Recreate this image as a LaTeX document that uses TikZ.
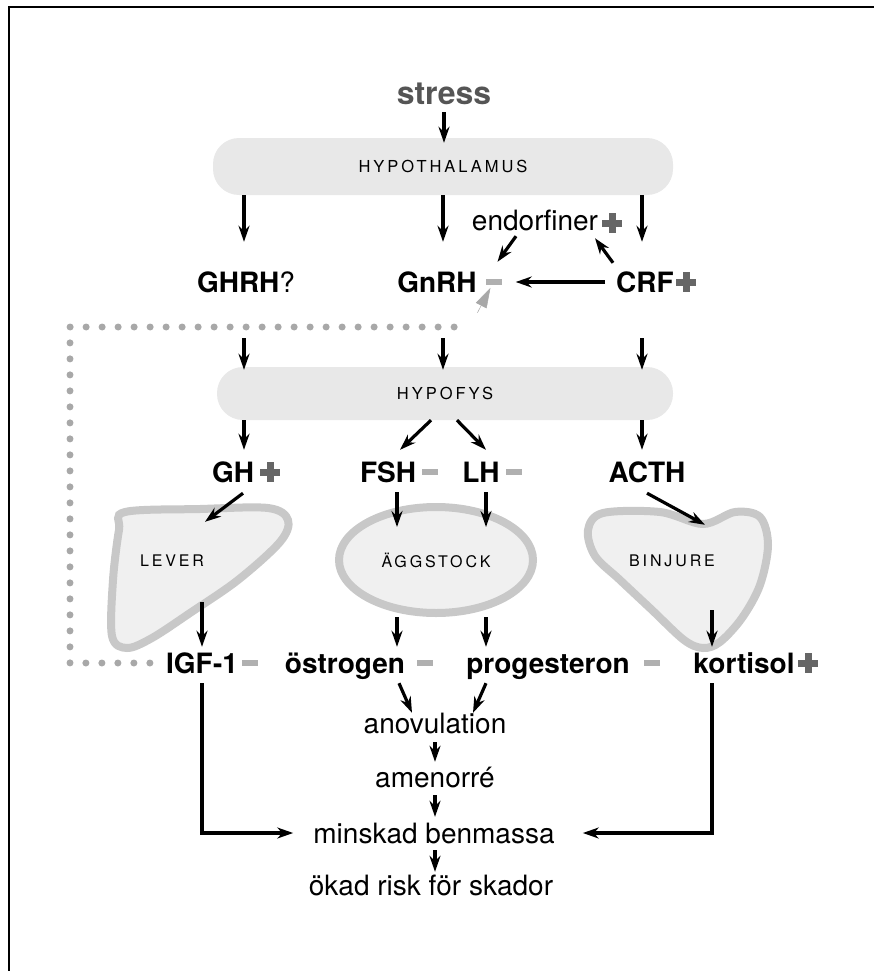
\documentclass[tikz,border=0pt]{standalone}
\usepackage{fontspec}
\setmainfont{TeX Gyre Heros}
\newfontfamily\capsfont[LetterSpace=18]{TeX Gyre Heros}
\usetikzlibrary{arrows.meta, shapes.geometric}

\definecolor{pillgray}{HTML}{E8E8E8}
\definecolor{organfill}{HTML}{F0F0F0}
\definecolor{organline}{HTML}{C8C8C8}
\definecolor{dotgray}{HTML}{A8A8A8}
\definecolor{minusgray}{HTML}{B0B0B0}
\definecolor{plusgray}{HTML}{666666}
\definecolor{stressgray}{HTML}{555555}

\begin{document}
\begin{tikzpicture}[x=1pt, y=-1pt,
    lbl/.style={anchor=base, inner sep=0pt, text height=20pt, text depth=0pt, font=\fontsize{28}{28}\selectfont},
    hormon/.style={lbl, font=\fontsize{28}{28}\selectfont\bfseries},
    pill/.style={fill=pillgray, rounded corners=26pt, font=\fontsize{16.5}{16.5}\selectfont\capsfont},
    organ/.style={fill=organfill, draw=organline, line width=8pt},
    organtxt/.style={anchor=base, inner sep=0pt, text height=12pt, text depth=0pt, font=\fontsize{16}{16}\selectfont\capsfont},
    minus/.style={fill=minusgray, minimum width=16pt, minimum height=6pt, inner sep=0pt},
    plus/.style={minimum size=20pt, inner sep=0pt, path picture={
        \fill[plusgray] ([xshift=-10pt,yshift=-3.5pt]path picture bounding box.center) rectangle ([xshift=10pt,yshift=3.5pt]path picture bounding box.center);
        \fill[plusgray] ([xshift=-3.5pt,yshift=-10pt]path picture bounding box.center) rectangle ([xshift=3.5pt,yshift=10pt]path picture bounding box.center);}},
    arr/.style={-{Stealth[length=16pt, width=11pt]}, line width=3.2pt},
    dots/.style={dotgray, line width=7pt, line cap=round, dash pattern=on 0pt off 16pt}
  ]
  \useasboundingbox (0,0) rectangle (874,971);
  \draw[line width=2pt] (9,971) -- (9,7) -- (874,7);

  % columns
  \coordinate (cA) at (244,0);
  \coordinate (cB) at (443,0);
  \coordinate (cC) at (642,0);
  \coordinate (cD) at (397,0);
  \coordinate (cE) at (486,0);
  \coordinate (cF) at (712,0);

  % organ outlines
  \draw[organ] plot[smooth cycle, tension=0.55] coordinates {(125,512) (200,509) (268,508) (288,520) (280,542) (238,580) (190,613) (152,638) (127,648) (112,636) (113,580) (119,530)};
  \draw[organ] plot[smooth cycle, tension=0.55] coordinates {(603,513) (660,512) (703,524) (735,512) (760,517) (768,545) (760,585) (742,618) (720,642) (703,648) (684,640) (652,610) (620,580) (595,556) (588,530)};

  \node[anchor=base, inner sep=0pt, text height=22pt, text depth=0pt, text=stressgray, font=\fontsize{32}{32}\selectfont\bfseries] (stress) at (444,105) {stress};
  \node[pill, minimum width=460pt, minimum height=57pt] (hypoth) at (443,166.5) {HYPOTHALAMUS};

  \node[lbl] (ghrh) at (246,292) {\bfseries GHRH\mdseries?};
  \node[hormon] (gnrh) at (437,292) {GnRH};
  \node[minus] (gnrhm) at (493.5,282) {};
  \node[hormon] (crf) at (645,292) {CRF};
  \node[plus] (crfp) at (686,282) {};
  \node[lbl] (endorf) at (535,230) {endorfiner};
  \node[plus] (endp) at (612,223) {};

  \node[pill, minimum width=456pt, minimum height=53pt] (hypofys) at (445,393.5) {HYPOFYS};

  \node[hormon] (gh) at (233,482) {GH};
  \node[plus] (ghp) at (270,472) {};
  \node[hormon] (fsh) at (388,482) {FSH};
  \node[minus] (fshm) at (430,472) {};
  \node[hormon] (lh) at (481,482) {LH};
  \node[minus] (lhm) at (514,472) {};
  \node[hormon] (acth) at (647,482) {ACTH};

  \node[organtxt] (lever) at (172,566) {LEVER};
  \node[organ, ellipse, minimum width=194pt, minimum height=106pt, inner sep=0pt, font=\fontsize{16}{16}\selectfont\capsfont] (ovary) at (436,560) {ÄGGSTOCK};
  \node[organtxt] (binj) at (672,566) {BINJURE};

  \node[hormon] (igf) at (202,673) {IGF-1};
  \node[minus] (igfm) at (250,663) {};
  \node[hormon] (ostr) at (345,673) {östrogen};
  \node[minus] (ostm) at (425,663) {};
  \node[hormon] (prog) at (548,673) {progesteron};
  \node[minus] (progm) at (652,663) {};
  \node[hormon] (kort) at (744,673) {kortisol};
  \node[plus] (kortp) at (808,663) {};

  \node[lbl] (anov) at (435,733) {anovulation};
  \node[lbl] (amen) at (435,787) {amenorré};
  \node[lbl] (minsk) at (434,843) {minskad benmassa};
  \node[lbl] (okad) at (431,895) {ökad risk för skador};

  % feedback loop
  \coordinate (fbl) at (70,663);
  \coordinate (ftl) at (70,327);
  \coordinate (ftr) at (470,327);
  \draw[dots] ([xshift=-16pt]igf.west) -- (fbl) -- (ftl) -- (ftr);
  \draw[dotgray, line width=0.5pt, -{Triangle[length=20pt, width=12pt]}, shorten <=16pt, shorten >=3pt] (ftr) -- (gnrhm);

  % arrows
  \draw[arr, shorten <=7pt, shorten >=-5pt] (stress) -- (hypoth.north -| stress);
  \draw[arr, shorten >=30pt] (hypoth.south -| cA) -- (ghrh.north -| cA);
  \draw[arr, shorten >=30pt] (hypoth.south -| cB) -- (gnrh.north -| cB);
  \draw[arr, shorten >=30pt] (hypoth.south -| cC) -- (crf.north -| cC);
  \draw[arr, shorten <=11pt, shorten >=14pt] (crf.west) -- (gnrhm.east);
  \draw[arr] ([xshift=-32pt,yshift=9pt]crf.north) -- ([xshift=60pt,yshift=-8pt]endorf.south);
  \draw[arr] ([xshift=-19pt,yshift=-6pt]endorf.south) -- ([xshift=4pt,yshift=17pt]gnrhm.north);

  \draw[arr, shorten <=46pt, shorten >=-3pt] (ghrh.south -| cA) -- (hypofys.north -| cA);
  \draw[arr, shorten <=46pt, shorten >=-3pt] (gnrh.south -| cB) -- (hypofys.north -| cB);
  \draw[arr, shorten <=46pt, shorten >=-3pt] (crf.south -| cC) -- (hypofys.north -| cC);

  \draw[arr, shorten >=12pt] (hypofys.south -| cA) -- (gh.north -| cA);
  \draw[arr] ([xshift=-14pt]hypofys.south) -- ([xshift=12pt,yshift=12pt]fsh.north);
  \draw[arr] ([xshift=12pt]hypofys.south) -- ([xshift=5pt,yshift=12pt]lh.north);
  \draw[arr, shorten >=12pt] (hypofys.south -| cC) -- (acth.north -| cC);

  \draw[arr] ([xshift=10pt,yshift=-11pt]gh.south) -- ([xshift=33pt,yshift=32pt]lever.north);
  \draw[arr, shorten <=10pt, shorten >=-24pt] (fsh.south -| cD) -- (ovary.north -| cD);
  \draw[arr, shorten <=10pt, shorten >=-24pt] (lh.south -| cE) -- (ovary.north -| cE);
  \draw[arr] ([yshift=-11pt]acth.south) -- ([xshift=33pt,yshift=29pt]binj.north);

  \draw[arr, shorten <=36pt, shorten >=6pt] (lever.south -| igf) -- (igf.north);
  \draw[arr, shorten >=6pt] (ovary.south -| cD) -- (ostr.north -| cD);
  \draw[arr, shorten >=6pt] (ovary.south -| cE) -- (prog.north -| cE);
  \draw[arr, shorten <=44pt, shorten >=6pt] (binj.south -| cF) -- (kort.north -| cF);

  \draw[arr] ([xshift=54pt,yshift=-10pt]ostr.south) -- ([xshift=-23pt]anov.north);
  \draw[arr] ([xshift=-62pt,yshift=-10pt]prog.south) -- ([xshift=38pt]anov.north);
  \draw[arr, shorten <=9pt, shorten >=5pt] (anov) -- (amen);
  \draw[arr, shorten <=8pt, shorten >=6pt] (amen) -- (minsk.north -| amen);
  \draw[arr, shorten <=7pt, shorten >=3pt] (minsk.south -| amen) -- (okad.north -| amen);
  \draw[arr, shorten <=10pt, shorten >=20pt] (igf.south) |- (minsk.west);
  \draw[arr, shorten <=10pt, shorten >=28pt] (kort.south -| cF) |- (minsk.east);
\end{tikzpicture}
\end{document}
